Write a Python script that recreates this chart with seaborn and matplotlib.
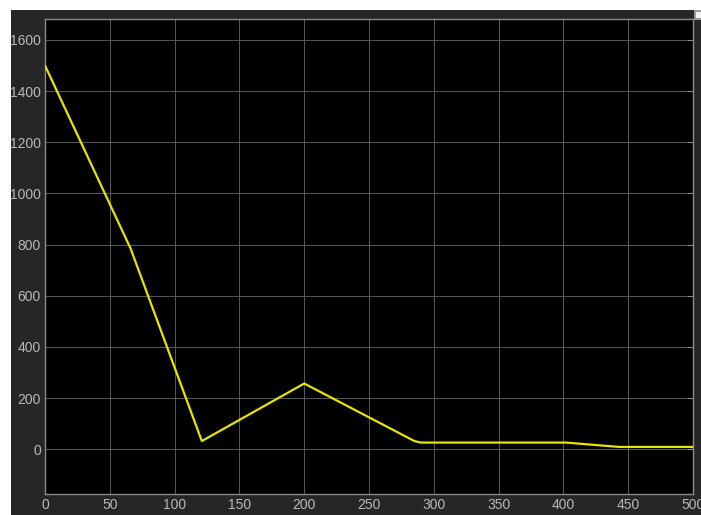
import matplotlib
matplotlib.use("Agg")
import matplotlib.pyplot as plt
from matplotlib.patches import Rectangle
import seaborn as sns
import pandas as pd

# Scope trace: signal value over simulation time
time = [0, 66, 121, 200, 285, 290, 402, 443, 500]
signal = [1500, 785, 32, 257, 32, 26, 26, 9, 9]

x_ticks = [0, 50, 100, 150, 200, 250, 300, 350, 400, 450, 500]
y_ticks = [0, 200, 400, 600, 800, 1000, 1200, 1400, 1600]

df = pd.DataFrame({"time": time, "signal": signal})

sns.set_style("dark")
plt.rcParams["font.family"] = ["Liberation Sans", "DejaVu Sans"]

W, H = 701, 515
fig = plt.figure(figsize=(W / 100, H / 100), dpi=100, facecolor="white")

# dark scope panel behind the axes, plus the small corner button
fig.add_artist(Rectangle((11 / W, 0), 1 - 11 / W, 1 - 10 / H,
                         transform=fig.transFigure, facecolor="#262626",
                         edgecolor="none", zorder=-10))
fig.add_artist(Rectangle((694 / W, 1 - 20 / H), 7 / W, 10 / H,
                         transform=fig.transFigure, facecolor="#9a9a9a",
                         edgecolor="none", zorder=-9))
fig.add_artist(Rectangle((696 / W, 1 - 18 / H), 5 / W, 6 / H,
                         transform=fig.transFigure, facecolor="#f0f0f0",
                         edgecolor="none", zorder=-8))

ax = fig.add_axes([45 / W, 1 - 494 / H, (693 - 45) / W, (494 - 19) / H])
ax.set_zorder(5)
ax.set_facecolor("black")

sns.lineplot(data=df, x="time", y="signal", ax=ax, color="#e6e400",
             linewidth=1.6, zorder=3)

ax.set_xlim(0, 500)
ax.set_ylim(-175, 1682)
ax.set_xticks(x_ticks)
ax.set_yticks(y_ticks)
ax.set_xlabel("")
ax.set_ylabel("")

ax.grid(True, color="#555555", linewidth=0.75)
ax.tick_params(axis="both", direction="in", length=4, width=0.8,
               colors="#8a8a8a", labelcolor="#b8b8b8", labelsize=10,
               pad=3)
ax.tick_params(axis="y", right=True)
for s in ax.spines.values():
    s.set_visible(True)
    s.set_color("#8a8a8a")
    s.set_linewidth(1.0)

fig.savefig("out.png", dpi=100, facecolor=fig.get_facecolor())
